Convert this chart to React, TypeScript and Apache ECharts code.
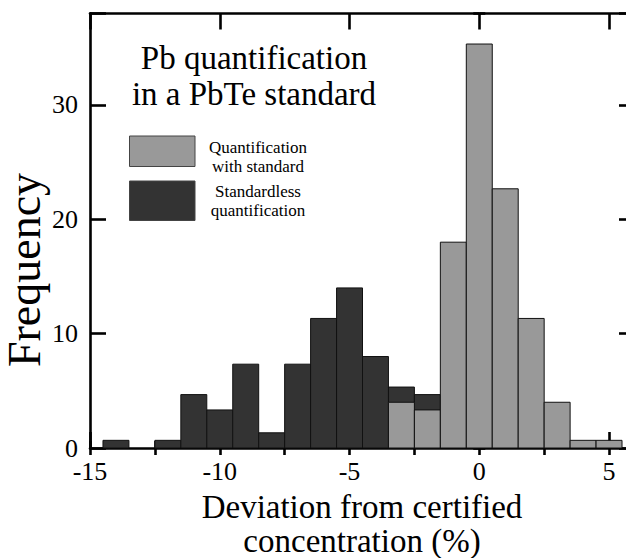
import { useEffect, useRef } from "react";
import * as echarts from "echarts";

// Histogram bins (bin centres, % deviation) and frequencies (%)
const binCenters = [-14, -13, -12, -11, -10, -9, -8, -7, -6, -5, -4, -3, -2, -1, 0, 1, 2, 3, 4, 5];
const binWidth = 1;
const standardless = [0.67, 0, 0.67, 4.67, 3.33, 7.33, 1.33, 7.33, 11.33, 14, 8, 5.33, 4.67, 0, 0, 0, 0, 0, 0, 0];
const withStandard = [0, 0, 0, 0, 0, 0, 0, 0, 0, 0, 0, 4, 3.33, 18, 35.33, 22.67, 11.33, 4, 0.67, 0.67];

const xMin = -15;
const xMax = 6;
const xInterval = 5;
const yMin = 0;
const yMax = 38;
const yInterval = 10;

const FONT = "'Liberation Serif', 'Times New Roman', serif";
const CHART_W = 650;

export default function App() {
  const ref = useRef<HTMLDivElement>(null);
  useEffect(() => {
    if (!ref.current) return;
    const chart = echarts.init(ref.current, undefined, { renderer: "svg" });

    const makeSeries = (name: string, values: number[], color: string, z: number) => ({
      type: "custom",
      name,
      xAxisIndex: 0,
      yAxisIndex: 0,
      z,
      data: binCenters.map((c, i) => [c, values[i]]),
      renderItem: (_params: any, api: any) => {
        const x = api.value(0);
        const y = api.value(1);
        if (!y) return { type: "group", children: [] };
        const p0 = api.coord([x - binWidth / 2, y]);
        const p1 = api.coord([x + binWidth / 2, 0]);
        return {
          type: "rect",
          shape: { x: p0[0], y: p0[1], width: p1[0] - p0[0], height: p1[1] - p0[1] },
          style: { fill: color, stroke: "#111", lineWidth: 1 },
        };
      },
    });

    const lineW = 2.6;
    const axisCommon = {
      type: "value",
      splitLine: { show: false },
      axisLine: { show: true, onZero: false, lineStyle: { color: "#000", width: lineW } },
    };
    const labelStyle = { color: "#000", fontSize: 26, fontFamily: FONT };
    const tick = (len: number) => ({ show: true, inside: true, length: len, lineStyle: { color: "#000", width: lineW } });

    chart.setOption({
      animation: false,
      grid: { left: 90, right: CHART_W - 635, top: 13.5, bottom: 110, containLabel: false },
      xAxis: [
        {
          ...axisCommon,
          position: "bottom",
          min: xMin,
          max: xMax,
          interval: xInterval,
          axisTick: tick(16),
          axisLabel: {
            ...labelStyle,
            margin: 10,
            formatter: (v: number) => (v % xInterval === 0 ? String(v) : ""),
          },
        },
        { ...axisCommon, position: "top", min: xMin, max: xMax, interval: xInterval, axisTick: tick(16), axisLabel: { show: false } },
        { ...axisCommon, position: "bottom", min: xMin, max: xMax, interval: xInterval / 2, axisLine: { show: false }, axisTick: tick(7), axisLabel: { show: false } },
        { ...axisCommon, position: "top", min: xMin, max: xMax, interval: xInterval / 2, axisLine: { show: false }, axisTick: tick(7), axisLabel: { show: false } },
      ],
      yAxis: [
        {
          ...axisCommon,
          position: "left",
          min: yMin,
          max: yMax,
          interval: yInterval,
          axisTick: tick(16),
          axisLabel: {
            ...labelStyle,
            margin: 12,
            formatter: (v: number) => (v % yInterval === 0 ? String(v) : ""),
          },
        },
        { ...axisCommon, position: "right", min: yMin, max: yMax, interval: yInterval, axisTick: tick(16), axisLabel: { show: false } },
        { ...axisCommon, position: "left", min: yMin, max: yMax, interval: yInterval / 2, axisLine: { show: false }, axisTick: tick(6), axisLabel: { show: false } },
        { ...axisCommon, position: "right", min: yMin, max: yMax, interval: yInterval / 2, axisLine: { show: false }, axisTick: tick(6), axisLabel: { show: false } },
      ],
      series: [
        makeSeries("Standardless quantification", standardless, "#333333", 2),
        makeSeries("Quantification with standard", withStandard, "#999999", 3),
      ],
      graphic: [
        { type: "text", x: 254, y: 58, style: { text: "Pb quantification", fill: "#000", font: `33px ${FONT}`, align: "center", verticalAlign: "middle" } },
        { type: "text", x: 254, y: 94, style: { text: "in a PbTe standard", fill: "#000", font: `33px ${FONT}`, align: "center", verticalAlign: "middle" } },
        { type: "rect", shape: { x: 129.5, y: 136, width: 65.5, height: 30.5 }, style: { fill: "#999999", stroke: "#444", lineWidth: 1 } },
        { type: "rect", shape: { x: 129.5, y: 181, width: 65.5, height: 39.5 }, style: { fill: "#333333", stroke: "#444", lineWidth: 1 } },
        { type: "text", x: 258, y: 147, style: { text: "Quantification", fill: "#000", font: `17px ${FONT}`, align: "center", verticalAlign: "middle" } },
        { type: "text", x: 258, y: 166, style: { text: "with standard", fill: "#000", font: `17px ${FONT}`, align: "center", verticalAlign: "middle" } },
        { type: "text", x: 258, y: 191, style: { text: "Standardless", fill: "#000", font: `17px ${FONT}`, align: "center", verticalAlign: "middle" } },
        { type: "text", x: 258, y: 210, style: { text: "quantification", fill: "#000", font: `17px ${FONT}`, align: "center", verticalAlign: "middle" } },
        { type: "text", x: 24, y: 270, rotation: Math.PI / 2, style: { text: "Frequency", fill: "#000", font: `46px ${FONT}`, align: "center", verticalAlign: "middle" } },
        { type: "text", x: 362, y: 507, style: { text: "Deviation from certified", fill: "#000", font: `33px ${FONT}`, align: "center", verticalAlign: "middle" } },
        { type: "text", x: 362, y: 541, style: { text: "concentration (%)", fill: "#000", font: `33px ${FONT}`, align: "center", verticalAlign: "middle" } },
      ],
    });
    return () => chart.dispose();
  }, []);
  return (
    <div style={{ position: "fixed", left: 0, top: 0, width: 626, height: 558, overflow: "hidden", background: "#fff" }}>
      <div ref={ref} style={{ width: CHART_W, height: 558 }} />
    </div>
  );
}
